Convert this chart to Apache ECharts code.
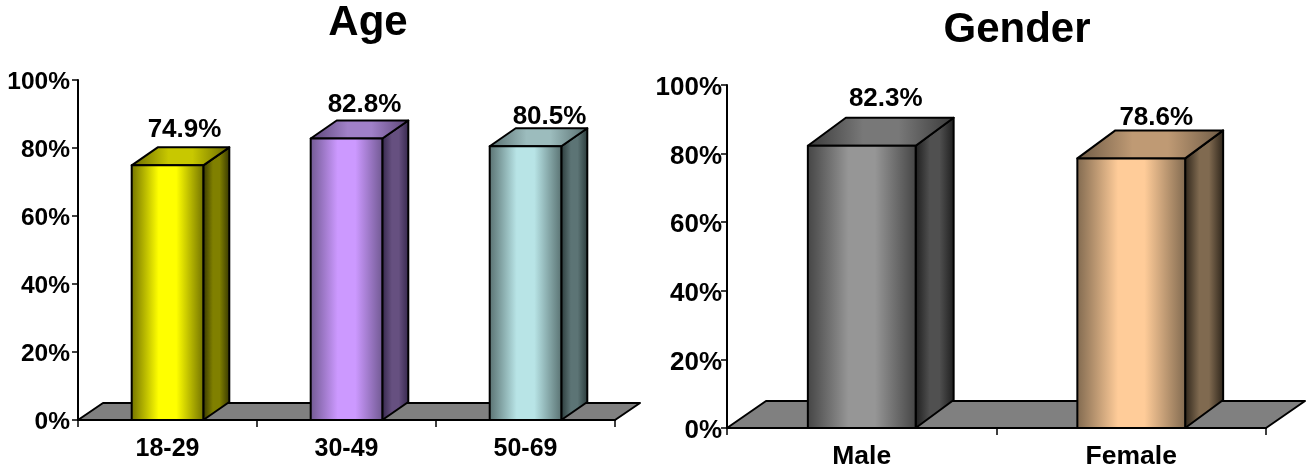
<!DOCTYPE html>
<html><head><meta charset="utf-8">
<style>html,body{margin:0;padding:0;background:#fff}#c{width:1306px;height:469px}</style>
<script src="https://cdn.jsdelivr.net/npm/echarts@6/dist/echarts.min.js"></script>
</head><body><div id="c"></div>
<script>
const ageTitle = 'Age';
const ageCategories = ['18-29', '30-49', '50-69'];
const ageValues = [74.9, 82.8, 80.5];
const genderTitle = 'Gender';
const genderCategories = ['Male', 'Female'];
const genderValues = [82.3, 78.6];
const valueTicks = [0, 20, 40, 60, 80, 100];

const agePalettes = [
  {front:['#707000','#ffff00'], top:['#666600','#c8c800'], side:['#333300','#808000']},
  {front:['#6f5890','#cc99ff'], top:['#5a4575','#a080c8'], side:['#33264a','#665080']},
  {front:['#587070','#b8e4e6'], top:['#566c6d','#9cbcbd'], side:['#283838','#5c7475']}
];
const genderPalettes = [
  {front:['#444444','#969696'], top:['#3a3a3a','#787878'], side:['#1c1c1c','#505050']},
  {front:['#80694f','#ffcc99'], top:['#6d5a45','#bf9a74'], side:['#2a2218','#806a50']}
];

const font = '"Liberation Sans", Arial, sans-serif';
const hGrad = (a, b) => ({type:'linear', x:0, y:0, x2:1, y2:0, colorStops:[
  {offset:0, color:a},{offset:0.38, color:b},{offset:0.62, color:b},{offset:1, color:a}]});
const edge = {stroke:'#000', lineWidth:2, lineJoin:'round'};

function floorItem(dx, dy) {
  return (params, api) => {
    const cs = params.coordSys;
    const y0 = cs.y + cs.height, x0 = cs.x, x1 = cs.x + cs.width;
    return {type:'polygon', silent:true,
      shape:{points:[[x0,y0],[x0+dx,y0-dy],[x1+dx,y0-dy],[x1,y0]]},
      style:{fill:'#808080', ...edge}};
  };
}
function barItem(palettes, dx, dy, ratio, nudge) {
  return (params, api) => {
    const i = api.value(0), v = api.value(1);
    const [cx, yTop] = api.coord([i, v]);
    const [, yBase] = api.coord([i, 0]);
    const w = api.size([1, 0])[0] * ratio;
    const l = cx - w/2, r = cx + w/2;
    const p = palettes[i];
    const n = nudge[i];
    return {type:'group', children:[
      {type:'polygon', shape:{points:[[r,yTop],[r+dx,yTop-dy],[r+dx,yBase-dy],[r,yBase]]},
        style:{fill:hGrad(p.side[0],p.side[1]), ...edge}},
      {type:'polygon', shape:{points:[[l,yTop],[l+dx,yTop-dy],[r+dx,yTop-dy],[r,yTop]]},
        style:{fill:hGrad(p.top[0],p.top[1]), ...edge}},
      {type:'rect', shape:{x:l,y:yTop,width:w,height:yBase-yTop},
        style:{fill:hGrad(p.front[0],p.front[1]), ...edge}},
      {type:'text', z2:10, style:{text:v.toFixed(1)+'%', x:cx+n[0], y:yTop+n[1],
        align:'center', verticalAlign:'middle', font:'bold 26px '+font, fill:'#000'}}
    ]};
  };
}
function axes(gi, cats, xSize, xMargin, ySize, yMargin, yShift) {
  return {
    x:{type:'category', gridIndex:gi, data:cats,
      axisLine:{lineStyle:{color:'#000',width:2}},
      axisTick:{show:true,length:7,alignWithLabel:false,lineStyle:{color:'#000',width:1.5}},
      axisLabel:{color:'#000',fontFamily:font,fontWeight:'bold',fontSize:xSize,margin:xMargin,interval:0}},
    y:{type:'value', gridIndex:gi, min:valueTicks[0], max:valueTicks[valueTicks.length-1], interval:valueTicks[1]-valueTicks[0],
      splitLine:{show:false},
      axisLine:{show:true,lineStyle:{color:'#000',width:2}},
      axisTick:{show:true,length:6,lineStyle:{color:'#000',width:1.5}},
      axisLabel:{color:'#000',fontFamily:font,fontWeight:'bold',fontSize:ySize,margin:yMargin,verticalAlign:'top',lineHeight:yShift*2,formatter:'{value}%'}}
  };
}
const a = axes(0, ageCategories, 25, 17, 24.5, 8, 2);
const g = axes(1, genderCategories, 26.5, 15, 26, 5, 3);
const chart = echarts.init(document.getElementById('c'), null, {renderer:'canvas'});
chart.setOption({
  animation:false, backgroundColor:'#fff',
  title:[
    {text:ageTitle, left:363, top:-3, textAlign:'center', textStyle:{fontFamily:font,fontWeight:'bold',fontSize:42,color:'#000'}},
    {text:genderTitle, left:1012, top:4, textAlign:'center', textStyle:{fontFamily:font,fontWeight:'bold',fontSize:42,color:'#000'}}
  ],
  grid:[
    {left:78, width:537, top:80, height:340, outerBoundsMode:'none'},
    {left:727, width:539, top:85, height:343, outerBoundsMode:'none'}
  ],
  xAxis:[a.x, g.x], yAxis:[a.y, g.y],
  series:[
    {type:'custom', xAxisIndex:0, yAxisIndex:0, z:1, renderItem:floorItem(25,17), data:[[0,0]], silent:true},
    {type:'custom', xAxisIndex:1, yAxisIndex:1, z:1, renderItem:floorItem(39,27), data:[[0,0]], silent:true},
    {type:'custom', xAxisIndex:0, yAxisIndex:0, z:2, clip:false,
      renderItem:barItem(agePalettes,26,18,0.4,[[17,-36],[18,-34],[24,-29]]),
      data:ageValues.map((v,i)=>[i,v])},
    {type:'custom', xAxisIndex:1, yAxisIndex:1, z:2, clip:false,
      renderItem:barItem(genderPalettes,38,28,0.4,[[24,-47],[25,-41]]),
      data:genderValues.map((v,i)=>[i,v])}
  ]
});
</script></body></html>
